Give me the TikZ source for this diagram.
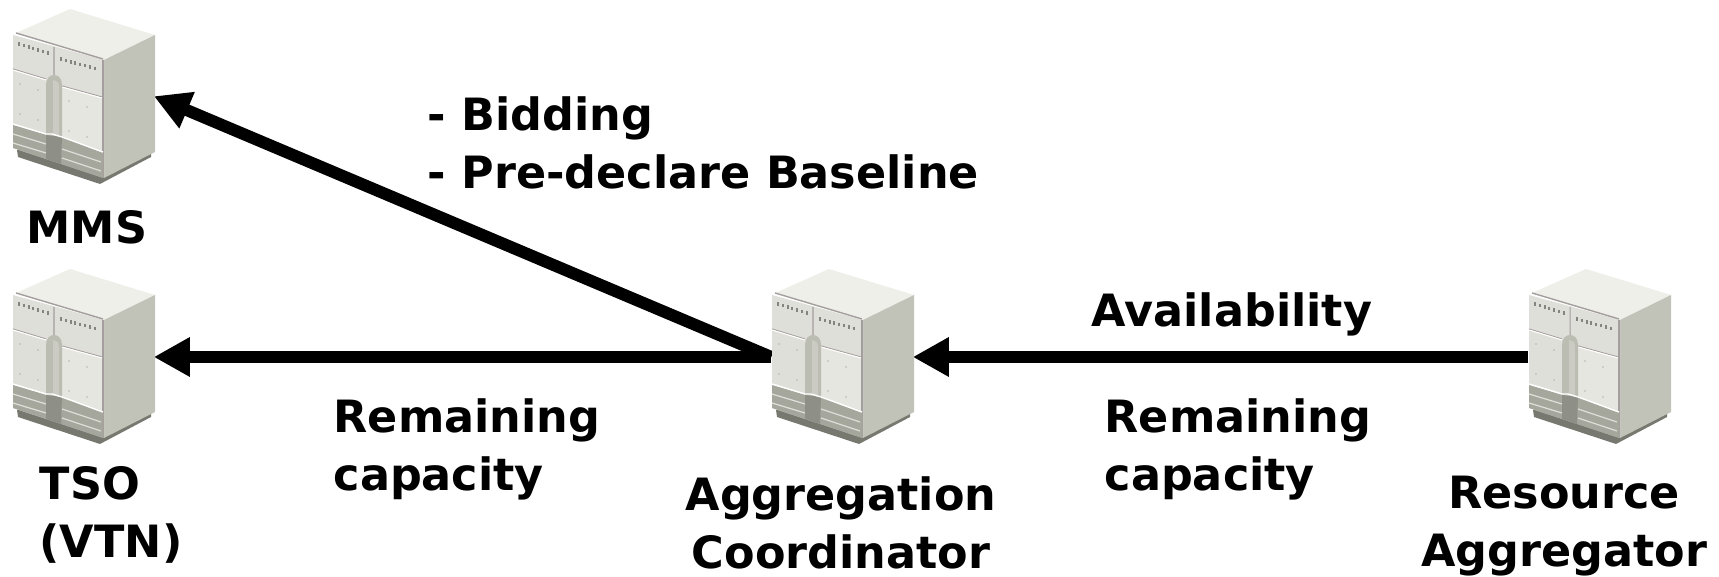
\documentclass[tikz,border=0pt]{standalone}
\usepackage{fontspec}
\setmainfont{DejaVu Sans}
\usetikzlibrary{arrows.meta}
\definecolor{topc}{HTML}{EEEFE9}
\definecolor{sidec}{HTML}{C1C2B8}
\definecolor{frontc}{HTML}{DFDFD9}
\definecolor{panelc}{HTML}{E6E6E0}
\definecolor{grooc}{HTML}{BBBCB2}
\definecolor{groolt}{HTML}{CBCBC3}
\definecolor{baseclr}{HTML}{A5A69C}
\definecolor{darkgr}{HTML}{8E8F86}
\definecolor{shadc}{HTML}{77786F}
\definecolor{edgec}{HTML}{A59E9E}
\definecolor{ventc}{HTML}{85857F}
\tikzset{
	srv/.style={minimum width=1.42cm,minimum height=1.74cm,inner sep=0},
	lab/.style={font=\fontsize{12.65}{16.5}\selectfont\bfseries,inner sep=0},
	flow/.style={line width=.12cm,shorten >=-.02cm,-{Triangle[length=.36cm,width=.37cm]}},
	server/.pic={
		\begin{scope}[shift={(-84,-97)}]
		\fill[shadc] (17,150)--(18,157)--(100,184)--(151,157)--(151,150)--cycle;
		\fill[topc] (16,33)--(70,9)--(155,35)--(104,60)--cycle;
		\fill[sidec] (104,60)--(155,35)--(155,152)--(104,178)--cycle;
		\fill[frontc] (13,35)--(104,60)--(104,178)--(13,148)--cycle;
		\fill[panelc] (61,86)--(102,97)--(102,150)--(62,137)--cycle;
		\draw[edgec,line width=.4pt] (16,33)--(103,59);
		\draw[edgec,line width=.5pt] (103,60)--(103,178);
		\draw[edgec,line width=.3pt] (54,47)--(54,76) (13,69)--(46,79) (62,86)--(102,97);
		\draw[white,line width=.3pt] (13,70)--(46,80) (62,87)--(102,98);
		\fill[baseclr] (13,125)--(47,135)--(62,137)--(103,153)--(103,178)--(13,148)--cycle;
		\fill[grooc] (46,135)--(46,85) .. controls (46,78) and (50,75) .. (54,75) .. controls (58,75) and (62,78) .. (62,85)--(62,137)--cycle;
		\fill[groolt] (53,135)--(53,80) .. controls (56,80) and (59,82) .. (59,86)--(59,136)--cycle;
		\fill[darkgr] (46,135)--(62,137)--(61,164)--(46,159)--cycle;
		\draw[white,line width=.4pt] (13,124)--(46,134)--(52,134)--(62,137)--(103,152);
		\draw[frontc,line width=.35pt] (13,134)--(46,144) (13,143)--(46,153) (62,149)--(101,162) (62,158)--(101,171);
		\foreach \i in {0,...,6}
		\draw[ventc,line width=.6pt] ({19+\i*4.8},{42.5+\i*1.5})--++(0,3.5);
		\foreach \i in {0,...,7}
		\draw[ventc,line width=.6pt] ({61+\i*4.8},{57.5+\i*1.3})--++(0,3.5);
		\foreach \p in {(20,84),(38,90),(20,114),(38,120),(69,101),(87,107),(69,131),(87,137)}
		\fill[ventc] \p circle (.7);
		\end{scope}
	}
}
\begin{document}
\begin{tikzpicture}[x=.01cm,y=-.01cm]
	\useasboundingbox (0,0) rectangle (1719,577);
	\node[srv] (mms) at (84,97) {};
	\node[srv] (tso) at (84,357) {};
	\node[srv] (ac) at (843,357) {};
	\node[srv] (ra) at (1600,357) {};
	\node[lab] (mmslab) at (87,227) {MMS};
	\node[lab,align=left] (tsolab) at (111,515) {TSO\\(VTN)};
	\node[lab,align=center] (aclab) at (841,523) {Aggregation\\Coordinator};
	\node[lab,align=center] (ralab) at (1564,526) {Resource\\Aggregator};
	\node[lab,align=left,anchor=west] (bidlab) at (427,143) {- Bidding\\- Pre-declare Baseline};
	\node[lab,align=left,anchor=west] (remleft) at (333,449) {Remaining\\capacity};
	\node[lab,align=left,anchor=west] (remright) at (1104,449) {Remaining\\capacity};
	\node[lab,anchor=west] (avail) at (1091,314) {Availability};
	\draw[flow] (ra.west)--(ac.east);
	\draw[flow] (ac.west)--(tso.east);
	\draw[flow] (ac.west)--(mms.east);
	\foreach \n in {mms,tso,ac,ra}
	\pic at (\n) {server};
\end{tikzpicture}
\end{document}
